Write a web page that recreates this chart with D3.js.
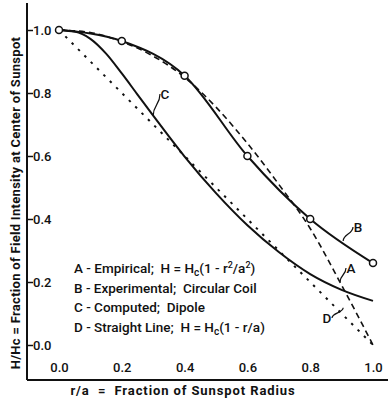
<!DOCTYPE html>
<html>
<head>
<meta charset="utf-8">
<script src="https://cdn.jsdelivr.net/npm/d3@7"></script>
<style>
  body { margin: 0; background: #fff; }
  svg { display: block; font-family: Roboto, "Liberation Sans", Arial, sans-serif; }
  text { white-space: pre; }
  .tick text { font-size: 13px; font-weight: 500; fill: #111; font-family: Roboto, sans-serif; }
  .lbl { font-size: 13px; font-weight: bold; fill: #111; }
  .leg { font-size: 13.5px; font-weight: 500; fill: #111; }
</style>
</head>
<body>
<svg id="chart" width="388" height="400"></svg>
<script>
// r/a values and curves
var rA = [0, 0.1, 0.2, 0.3, 0.4, 0.5, 0.6, 0.7, 0.8, 0.9, 1.0],
    valA = [1.0, 0.992, 0.963, 0.917, 0.85, 0.755, 0.64, 0.51, 0.37, 0.19, 0.0];   // empirical
var rB = [0, 0.2, 0.4, 0.6, 0.8, 1.0],
    valB = [1.0, 0.965, 0.855, 0.60, 0.40, 0.26];                          // experimental (circles)
var rC = [0, 0.05, 0.1, 0.15, 0.2, 0.25, 0.3, 0.35, 0.4, 0.5, 0.6, 0.7, 0.8, 0.9, 1.0],
    valC = [1.0, 0.995, 0.972, 0.925, 0.862, 0.795, 0.728, 0.662, 0.598, 0.482, 0.38, 0.295, 0.225, 0.175, 0.14]; // dipole
var rD = [0, 1.0],
    valD = [1.0, 0.0];                                                      // straight line
var xTicks = [0, 0.2, 0.4, 0.6, 0.8, 1.0],
    yTicks = [0, 0.2, 0.4, 0.6, 0.8, 1.0];

var legend = [
  [{t: "A - Empirical;  H = H"}, {t: "c", sub: 1}, {t: "(1 - r"}, {t: "2", sup: 1}, {t: "/a"}, {t: "2", sup: 1}, {t: ")"}],
  [{t: "B - Experimental;  Circular Coil"}],
  [{t: "C - Computed;  Dipole"}],
  [{t: "D - Straight Line;  H = H"}, {t: "c", sub: 1}, {t: "(1 - r/a)"}]
];

var svg = d3.select("#chart"),
    ax = 27, ay = 380;  // axis lines

var x = d3.scaleLinear().domain([0, 1]).range([59, 373]),
    y = d3.scaleLinear().domain([0, 1]).range([345, 30]);

// axes
svg.append("line").attr("x1", ax).attr("x2", ax).attr("y1", 3).attr("y2", ay)
  .attr("stroke", "#111").attr("stroke-width", 2);
svg.append("line").attr("x1", ax).attr("x2", 388).attr("y1", ay).attr("y2", ay)
  .attr("stroke", "#111").attr("stroke-width", 2);

var yAxis = svg.append("g").attr("transform", "translate(" + ax + ",0)")
  .call(d3.axisRight(y).tickValues(yTicks).tickFormat(d3.format(".1f")).tickSize(6).tickPadding(0).tickSizeOuter(0));
yAxis.select(".domain").remove();
yAxis.selectAll(".tick line").attr("stroke", "#111").attr("stroke-width", 1.5);

var xAxis = svg.append("g").attr("transform", "translate(0," + ay + ")")
  .call(d3.axisTop(x).tickValues(xTicks).tickFormat(d3.format(".1f")).tickSize(0).tickPadding(8));
xAxis.select(".domain").remove();

// curves
var line = function (xs, ys, curve) {
  return d3.line().x(function (d, i) { return x(xs[i]); }).y(function (d) { return y(d); }).curve(curve)(ys);
};

svg.append("path").attr("d", line(rD, valD, d3.curveLinear))
  .attr("fill", "none").attr("stroke", "#111").attr("stroke-width", 2).attr("stroke-dasharray", "2.5,6.5");
svg.append("path").attr("d", line(rA, valA, d3.curveMonotoneX))
  .attr("fill", "none").attr("stroke", "#111").attr("stroke-width", 1.6).attr("stroke-dasharray", "6,4");
svg.append("path").attr("d", line(rC, valC, d3.curveMonotoneX))
  .attr("fill", "none").attr("stroke", "#111").attr("stroke-width", 2);
svg.append("path").attr("d", line(rB, valB, d3.curveMonotoneX))
  .attr("fill", "none").attr("stroke", "#111").attr("stroke-width", 2);

svg.append("g").selectAll("circle").data(valB).enter().append("circle")
  .attr("cx", function (d, i) { return x(rB[i]); })
  .attr("cy", function (d) { return y(d); })
  .attr("r", 3.5).attr("fill", "#fff").attr("stroke", "#111").attr("stroke-width", 1.5);

// curve labels with small leaders
var tags = [
  {k: "C", r: 0.30, v: 0.728, lx: 165, ly: 99},
  {k: "B", r: 0.905, v: 0.33, lx: 358, ly: 232},
  {k: "A", r: 0.895, v: 0.20, lx: 351, ly: 273},
  {k: "D", r: 0.905, v: 0.118, lx: 327, ly: 323}
];
tags.forEach(function (t) {
  var px = x(t.r), py = y(t.v),
      ex = t.lx + (t.lx > px ? -5 : 5), ey = t.ly - 5;
  svg.append("path")
    .attr("d", "M" + px + "," + py + " C" + px + "," + (py + ey) / 2 + " " + ex + "," + (py + ey) / 2 + " " + ex + "," + ey)
    .attr("fill", "none").attr("stroke", "#111").attr("stroke-width", 1.2);
  svg.append("text").attr("class", "leg").attr("x", t.lx).attr("y", t.ly)
    .attr("text-anchor", "middle").text(t.k);
});

// legend
legend.forEach(function (row, i) {
  var tx = svg.append("text").attr("class", "leg").attr("x", 74).attr("y", 273 + i * 19.5),
      cur = 0;
  row.forEach(function (p) {
    var want = p.sub ? 3 : (p.sup ? -5 : 0);
    var s = tx.append("tspan").attr("dy", want - cur).text(p.t);
    if (p.sub) s.attr("font-size", "10px");
    if (p.sup) s.attr("font-size", "9px");
    cur = want;
  });
});

// axis titles
svg.append("text").attr("class", "lbl")
  .attr("transform", "translate(20,203) rotate(-90)").attr("text-anchor", "middle")
  .attr("letter-spacing", "0.3px")
  .text("H/Hc = Fraction of Field Intensity at Center of Sunspot");
svg.append("text").attr("class", "lbl").attr("x", 183).attr("y", 395)
  .attr("text-anchor", "middle").attr("letter-spacing", "0.9px")
  .text("r/a  =  Fraction of Sunspot Radius");
</script>
</body>
</html>
